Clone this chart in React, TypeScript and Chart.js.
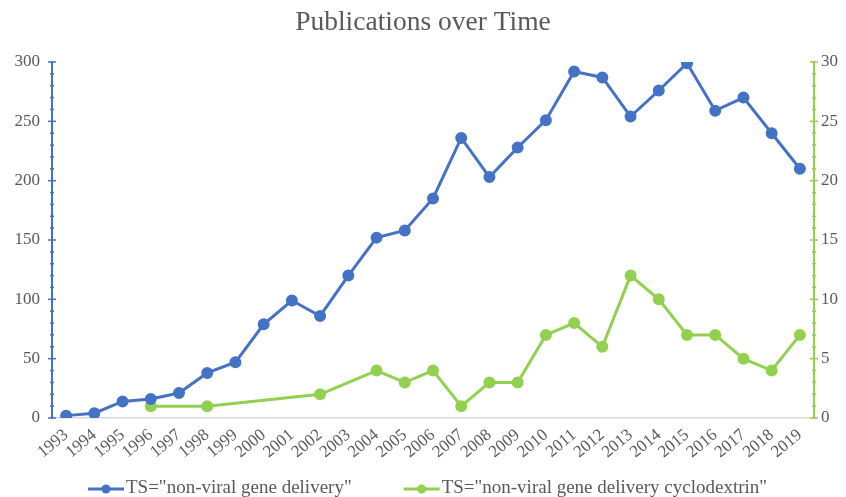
import React, { useEffect, useRef } from "react";
import { Chart, registerables } from "chart.js";

Chart.register(...registerables);

const years = ["1993","1994","1995","1996","1997","1998","1999","2000","2001","2002","2003","2004","2005","2006","2007","2008","2009","2010","2011","2012","2013","2014","2015","2016","2017","2018","2019"];
const geneDelivery = [2, 4, 14, 16, 21, 38, 47, 79, 99, 86, 120, 152, 158, 185, 236, 203, 228, 251, 292, 287, 254, 276, 299, 259, 270, 240, 210];
const cyclodextrin = [null, null, null, 1, null, 1, null, null, null, 2, null, 4, 3, 4, 1, 3, 3, 7, 8, 6, 12, 10, 7, 7, 5, 4, 7];
const leftTicks = [0, 50, 100, 150, 200, 250, 300];
const rightTicks = [0, 5, 10, 15, 20, 25, 30];
const seriesNames = ['TS="non-viral gene delivery"', 'TS="non-viral gene delivery cyclodextrin"'];

const BLUE = "#4472C4";
const GREEN = "#92D050";
const TEXT = "#595959";
const FONT = "'Liberation Serif', 'Times New Roman', serif";

const axisTicksPlugin = {
  id: "axisTicks",
  afterDraw(chart: any) {
    const ctx = chart.ctx;
    const draw = (scale: any, color: string, max: number, minorStep: number, majorStep: number) => {
      const x = scale.position === "left" ? scale.right : scale.left;
      ctx.save();
      ctx.strokeStyle = color;
      ctx.lineWidth = 1.5;
      for (let v = 0; v <= max + 1e-9; v += minorStep) {
        const y = scale.getPixelForValue(v);
        const major = Math.abs(v / majorStep - Math.round(v / majorStep)) < 1e-6;
        const h = major ? 4 : 2;
        ctx.beginPath();
        ctx.moveTo(x - h, y);
        ctx.lineTo(x + h, y);
        ctx.stroke();
      }
      ctx.restore();
    };
    draw(chart.scales.y, BLUE, 300, 10, 50);
    draw(chart.scales.y1, GREEN, 30, 1, 5);

    // custom legend: line with dot marker + text
    const datasets = chart.data.datasets;
    const lineLen = 36;
    const textGap = 2;
    const itemGap = 52;
    ctx.save();
    ctx.font = `19px ${FONT}`;
    const widths = datasets.map((ds: any) => lineLen + textGap + ctx.measureText(ds.label).width);
    const total = widths.reduce((a: number, b: number) => a + b, 0) + itemGap * (datasets.length - 1);
    let x = chart.width / 2 - total / 2 + 4.5;
    const y = 489;
    datasets.forEach((ds: any, i: number) => {
      ctx.strokeStyle = ds.borderColor;
      ctx.fillStyle = ds.borderColor;
      ctx.lineWidth = 3;
      ctx.beginPath();
      ctx.moveTo(x, y);
      ctx.lineTo(x + lineLen, y);
      ctx.stroke();
      ctx.beginPath();
      ctx.arc(x + lineLen / 2, y, 4.5, 0, Math.PI * 2);
      ctx.fill();
      ctx.fillStyle = TEXT;
      ctx.textBaseline = "middle";
      ctx.textAlign = "left";
      ctx.fillText(ds.label, x + lineLen + textGap, y - 1);
      x += widths[i] + itemGap;
    });
    ctx.restore();
  },
};

export default function App() {
  const ref = useRef<HTMLCanvasElement | null>(null);
  useEffect(() => {
    document.body.style.margin = "0";
    const canvas = ref.current;
    if (!canvas) return;
    const chart = new Chart(canvas, {
      type: "line",
      data: {
        labels: years,
        datasets: [
          {
            label: seriesNames[0],
            data: geneDelivery,
            borderColor: BLUE,
            backgroundColor: BLUE,
            pointBackgroundColor: BLUE,
            pointBorderColor: BLUE,
            borderWidth: 3,
            pointRadius: 4.5,
            yAxisID: "y",
            tension: 0,
          },
          {
            label: seriesNames[1],
            data: cyclodextrin,
            borderColor: GREEN,
            backgroundColor: GREEN,
            pointBackgroundColor: GREEN,
            pointBorderColor: GREEN,
            borderWidth: 3,
            pointRadius: 4.5,
            yAxisID: "y1",
            spanGaps: true,
            tension: 0,
          },
        ],
      },
      options: {
        animation: false,
        responsive: false,
        maintainAspectRatio: false,
        layout: { padding: { left: 0, right: 0, top: 0, bottom: 30 } },
        plugins: {
          title: {
            display: true,
            text: "Publications over Time",
            color: TEXT,
            font: { family: FONT, size: 27.5, weight: "normal" },
            padding: { top: 6, bottom: 23 },
          },
          legend: { display: false },
          tooltip: { enabled: false },
        },
        scales: {
          x: {
            type: "category",
            offset: true,
            grid: { display: false, drawTicks: false },
            border: { display: true, color: "#D9D9D9", width: 1.5 },
            ticks: {
              color: TEXT,
              font: { family: FONT, size: 17 },
              maxRotation: 40,
              minRotation: 40,
              autoSkip: false,
              padding: 7,
            },
            afterFit: (s: any) => { s.height = 49; },
          },
          y: {
            position: "left",
            min: 0,
            max: 300,
            grid: { display: false, drawTicks: false },
            border: { display: true, color: BLUE, width: 2 },
            ticks: {
              color: TEXT,
              font: { family: FONT, size: 17 },
              stepSize: 50,
              padding: 12,
              callback: (v: any) => (leftTicks.includes(Number(v)) ? String(v) : ""),
            },
            afterFit: (s: any) => { s.width = 52; },
          },
          y1: {
            position: "right",
            min: 0,
            max: 30,
            grid: { display: false, drawTicks: false },
            border: { display: true, color: GREEN, width: 2 },
            ticks: {
              color: TEXT,
              font: { family: FONT, size: 17 },
              stepSize: 5,
              padding: 7,
              callback: (v: any) => (rightTicks.includes(Number(v)) ? String(v) : ""),
            },
            afterFit: (s: any) => { s.width = 32; },
          },
        },
      },
      plugins: [axisTicksPlugin],
    });
    return () => chart.destroy();
  }, []);
  return (
    <div style={{ position: "absolute", left: 0, top: 0, width: 846, height: 497 }}>
      <canvas ref={ref} width={846} height={497} style={{ width: 846, height: 497 }} />
    </div>
  );
}
